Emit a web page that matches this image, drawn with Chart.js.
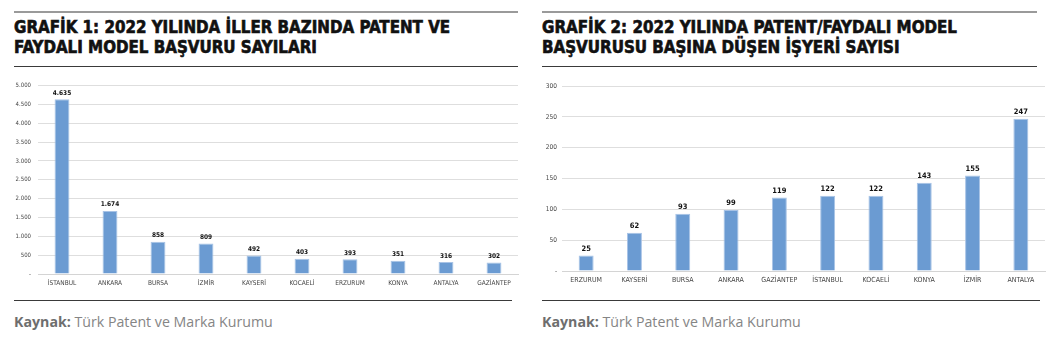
<!DOCTYPE html>
<html lang="tr">
<head>
<meta charset="utf-8">
<script src="https://cdn.jsdelivr.net/npm/chart.js@4.4.0/dist/chart.umd.min.js"></script>
<style>
  body { margin: 0; width: 1062px; height: 352px; background: #fff; position: relative; overflow: hidden; font-family: "Open Sans", sans-serif; }
  .rule { position: absolute; height: 0; border-top: 1px solid #3a3a3a; }
  .rule.top { border-top: 2px solid #9a9a9a; }
  .title { position: absolute; top: 17px; font-family: "DejaVu Sans Condensed", "DejaVu Sans", sans-serif; font-weight: bold; font-size: 16.8px; line-height: 20px; color: #111; -webkit-text-stroke: 0.6px #111; white-space: nowrap; }
  .src { position: absolute; top: 312px; font-size: 14.2px; color: #858585; white-space: nowrap; }
  .src b { color: #6e6e6e; }
  canvas { position: absolute; }
</style>
</head>
<body>

<div class="rule top" style="left:14px;top:11px;width:504px"></div>
<div class="title" style="left:14px">GRAFİK 1: 2022 YILINDA İLLER BAZINDA PATENT VE<br>FAYDALI MODEL BAŞVURU SAYILARI</div>
<div class="rule" style="left:14px;top:66px;width:504px"></div>
<canvas id="chart1" width="524" height="213" style="left:0;top:75px"></canvas>
<div class="rule" style="left:14px;top:300px;width:498px"></div>
<div class="src" style="left:14px"><b>Kaynak:</b> Türk Patent ve Marka Kurumu</div>

<div class="rule top" style="left:542px;top:11px;width:495px"></div>
<div class="title" style="left:542px">GRAFİK 2: 2022 YILINDA PATENT/FAYDALI MODEL<br>BAŞVURUSU BAŞINA DÜŞEN İŞYERİ SAYISI</div>
<div class="rule" style="left:542px;top:66px;width:495px"></div>
<canvas id="chart2" width="521" height="210" style="left:530px;top:75px"></canvas>
<div class="rule" style="left:542px;top:300px;width:498px"></div>
<div class="src" style="left:542px"><b>Kaynak:</b> Türk Patent ve Marka Kurumu</div>

<script>
// Grafik 1: patent / faydalı model başvuru sayıları
const cities1 = ["İSTANBUL", "ANKARA", "BURSA", "İZMİR", "KAYSERİ", "KOCAELİ", "ERZURUM", "KONYA", "ANTALYA", "GAZİANTEP"];
const applications = [4635, 1674, 858, 809, 492, 403, 393, 351, 316, 302];

// Grafik 2: başvuru başına düşen işyeri sayısı
const cities2 = ["ERZURUM", "KAYSERİ", "BURSA", "ANKARA", "GAZİANTEP", "İSTANBUL", "KOCAELİ", "KONYA", "İZMİR", "ANTALYA"];
const workplacesPerApp = [25, 62, 93, 99, 119, 122, 122, 143, 155, 247];

const barColor = "#6b9bd2";
const condensed = "'DejaVu Sans Condensed', 'Liberation Sans Narrow', sans-serif";

// turkish style thousands separator, zero shown as dash
function fmt(v) {
  if (v === 0) return "-";
  return String(v).replace(/\B(?=(\d{3})+(?!\d))/g, ".");
}

// draws the value above every bar
const valueLabels = {
  id: "valueLabels",
  afterDatasetsDraw(chart, args, opts) {
    const ctx = chart.ctx;
    const meta = chart.getDatasetMeta(0);
    const data = chart.data.datasets[0].data;
    ctx.save();
    ctx.font = opts.font;
    ctx.fillStyle = "#111";
    ctx.textAlign = "center";
    ctx.textBaseline = "bottom";
    meta.data.forEach((bar, i) => ctx.fillText(fmt(data[i]), bar.x, bar.y - 3));
    ctx.restore();
  }
};

function makeChart(id, labels, values, yMax, yStep, yWidth, yPad, topPad, labelFont, tickSize) {
  return new Chart(document.getElementById(id), {
    type: "bar",
    data: {
      labels: labels,
      datasets: [{
        data: values,
        backgroundColor: barColor,
        borderColor: "#a8c3e6",
        borderWidth: { left: 1, right: 1, top: 1, bottom: 0 },
        categoryPercentage: 1,
        barPercentage: 0.31
      }]
    },
    options: {
      responsive: false,
      animation: false,
      layout: { padding: { top: topPad, right: 6, left: 0, bottom: 0 } },
      plugins: {
        legend: { display: false },
        tooltip: { enabled: false },
        valueLabels: { font: labelFont }
      },
      scales: {
        x: {
          grid: { display: false, drawTicks: false },
          border: { display: true, color: "#d4d4d4" },
          ticks: { color: "#444", padding: 5, maxRotation: 0, autoSkip: false, font: { family: condensed, size: tickSize } },
          afterFit: s => { s.height = 14; }
        },
        y: {
          min: 0,
          max: yMax,
          grid: { color: "#dedede", drawTicks: false },
          border: { display: false },
          ticks: { stepSize: yStep, color: "#444", padding: yPad, callback: v => fmt(v), font: { family: condensed, size: tickSize - 0.5 } },
          afterFit: s => { s.width = yWidth; }
        }
      }
    },
    plugins: [valueLabels]
  });
}

makeChart("chart1", cities1, applications, 5000, 500, 38, 7, 10, "bold 6.5px " + condensed, 6.5);
makeChart("chart2", cities2, workplacesPerApp, 300, 50, 32, 5, 11, "bold 7.5px " + condensed, 7);
</script>
</body>
</html>
